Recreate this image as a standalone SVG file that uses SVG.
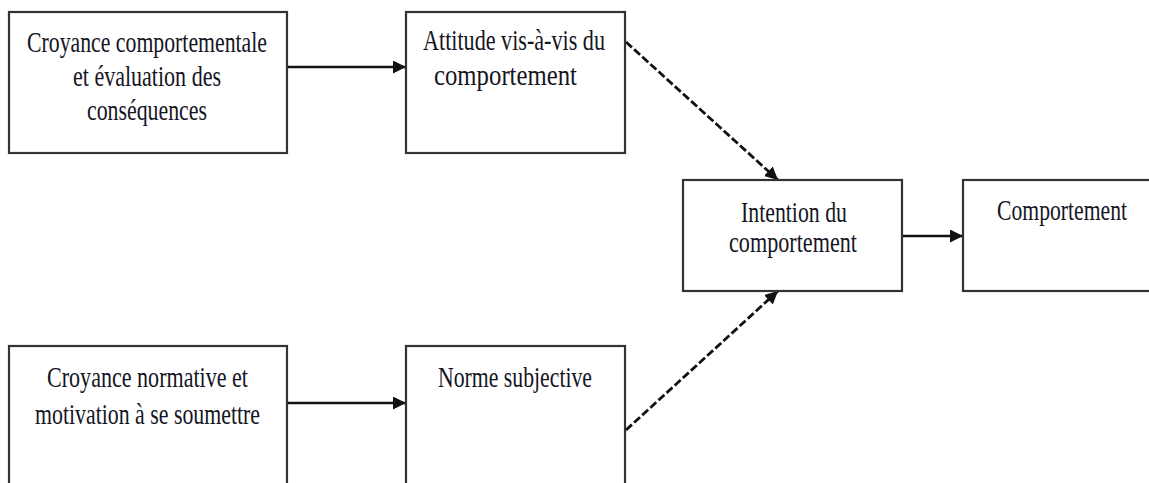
<svg xmlns="http://www.w3.org/2000/svg" width="1149" height="483" viewBox="0 0 1149 483">
  <style>
    .box { fill: #ffffff; stroke: #333333; stroke-width: 2.2; }
    .lbl { font-family: "Liberation Serif", "Times New Roman", serif; font-size: 29px; fill: #15151f; }
    .solid { stroke: #111111; stroke-width: 2.6; fill: none; marker-end: url(#head); }
    .dash { stroke: #111111; stroke-width: 2.8; fill: none; stroke-dasharray: 8 3; marker-end: url(#head); }
  </style>
  <defs>
    <marker id="head" markerUnits="userSpaceOnUse" viewBox="0 0 13 13" refX="13" refY="6.5" markerWidth="13" markerHeight="13" orient="auto">
      <path d="M0,0 L13,6.5 L0,13 z" fill="#111111"/>
    </marker>
  </defs>
  <rect width="1149" height="483" fill="#ffffff"/>

  <g id="connectors">
    <line class="solid" x1="287" y1="67" x2="406" y2="67"/>
    <line class="solid" x1="287" y1="403" x2="406" y2="403"/>
    <line class="dash" x1="626" y1="42" x2="778" y2="180"/>
    <line class="dash" x1="626" y1="430" x2="778" y2="291"/>
    <line class="solid" x1="902" y1="236" x2="963" y2="236"/>
  </g>

  <g id="croyance-comportementale">
    <rect class="box" x="9" y="12" width="278" height="141"/>
    <text class="lbl" x="27" y="52" textLength="240" lengthAdjust="spacingAndGlyphs">Croyance comportementale</text>
    <text class="lbl" x="73" y="86" textLength="148" lengthAdjust="spacingAndGlyphs">et évaluation des</text>
    <text class="lbl" x="87" y="120" textLength="120" lengthAdjust="spacingAndGlyphs">conséquences</text>
  </g>

  <g id="attitude">
    <rect class="box" x="406" y="12" width="219" height="141"/>
    <text class="lbl" x="423" y="50" textLength="182" lengthAdjust="spacingAndGlyphs">Attitude vis-à-vis du</text>
    <text class="lbl" x="434" y="85" textLength="143" lengthAdjust="spacingAndGlyphs">comportement</text>
  </g>

  <g id="intention">
    <rect class="box" x="683" y="180" width="219" height="111"/>
    <text class="lbl" x="741" y="222" textLength="106" lengthAdjust="spacingAndGlyphs">Intention du</text>
    <text class="lbl" x="729" y="252" textLength="128" lengthAdjust="spacingAndGlyphs">comportement</text>
  </g>

  <g id="comportement">
    <rect class="box" x="963" y="180" width="190" height="111"/>
    <text class="lbl" x="997" y="220" textLength="130" lengthAdjust="spacingAndGlyphs">Comportement</text>
  </g>

  <g id="croyance-normative">
    <rect class="box" x="9" y="346" width="278" height="160"/>
    <text class="lbl" x="47" y="387" textLength="201" lengthAdjust="spacingAndGlyphs">Croyance normative et</text>
    <text class="lbl" x="35" y="424" textLength="225" lengthAdjust="spacingAndGlyphs">motivation à se soumettre</text>
  </g>

  <g id="norme-subjective">
    <rect class="box" x="406" y="346" width="219" height="160"/>
    <text class="lbl" x="438" y="387" textLength="154" lengthAdjust="spacingAndGlyphs">Norme subjective</text>
  </g>
</svg>
